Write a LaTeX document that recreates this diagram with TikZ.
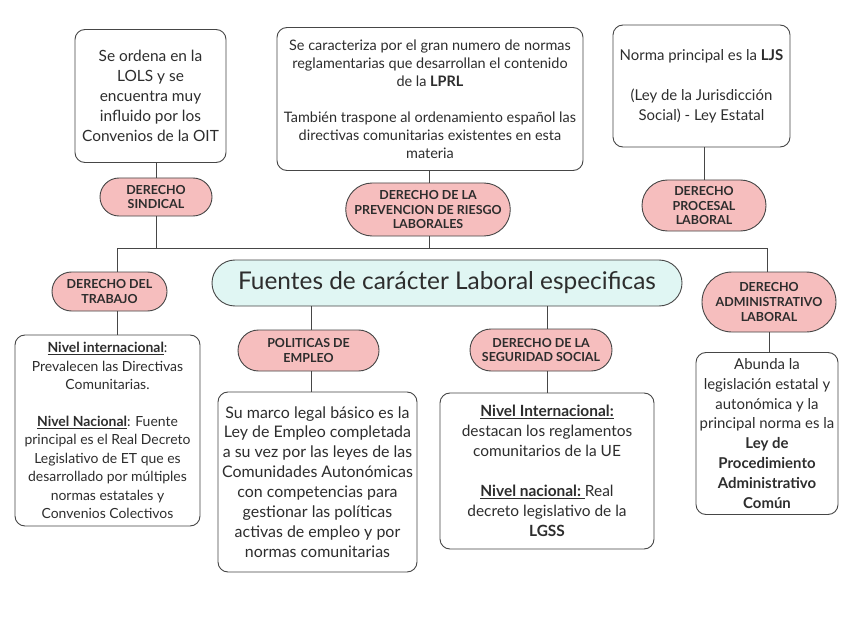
\documentclass[tikz,border=0pt]{standalone}
\usepackage{fontspec}
\setmainfont{Lato}
\usetikzlibrary{shapes.misc}
\definecolor{pillfill}{RGB}{246,190,190}
\definecolor{mainfill}{RGB}{224,246,243}
\definecolor{edge}{RGB}{70,70,70}
\definecolor{txt}{RGB}{45,45,45}
\tikzset{
  box/.style={draw=edge, line width=0.9bp, rounded corners=10bp, fill=white, align=center, inner sep=0pt, text=txt},
  pill/.style={draw=edge, line width=0.9bp, rounded rectangle, fill=pillfill, align=center, inner sep=0pt, text=txt, font=\bfseries\fontsize{12.5}{15}\selectfont},
  mainnode/.style={draw=edge, line width=0.9bp, rounded rectangle, fill=mainfill, align=center, inner sep=0pt, text=txt, font=\fontsize{24.5}{28}\selectfont},
  link/.style={draw=edge, line width=0.9bp},
}
\begin{document}
\begin{tikzpicture}[x=1bp,y=-1bp]
\useasboundingbox (0,0) rectangle (848,636);
\fill[white] (0,0) rectangle (848,636);

% junction coordinates on the horizontal bar
\coordinate (jL) at (117,248);
\coordinate (jS) at (156,248);
\coordinate (jP) at (429,248);
\coordinate (jR) at (767,248);

% top row
\node[box, minimum width=151bp, minimum height=133bp, font=\fontsize{15.5}{20}\selectfont] (sbox) at (150.5,96)
  {Se ordena en la\\LOLS y se\\encuentra muy\\influido por los\\Convenios de la OIT};
\node[pill, minimum width=112bp, minimum height=38bp] (spill) at (156,197) {DERECHO\\SINDICAL};

\node[box, minimum width=306bp, minimum height=143bp, font=\fontsize{14.5}{18}\selectfont] (pbox) at (430,99)
  {Se caracteriza por el gran numero de normas\\reglamentarias que desarrollan el contenido\\de la \textbf{LPRL}\\[18bp]
   También traspone al ordenamiento español las\\directivas comunitarias existentes en esta\\materia};
\node[pill, minimum width=155bp, minimum height=53bp] (ppill) at (428,209.5) {DERECHO DE LA\\PREVENCION DE RIESGO\\LABORALES};

\node[box, minimum width=177bp, minimum height=122bp, font=\fontsize{15}{20}\selectfont] (rbox) at (701.5,86)
  {Norma principal es la \textbf{LJS}\\[20bp](Ley de la Jurisdicción\\Social) - Ley Estatal};
\node[pill, minimum width=124bp, minimum height=51bp] (rpill) at (704,205.5) {DERECHO\\PROCESAL\\LABORAL};

% centre
\node[mainnode, minimum width=470bp, minimum height=46bp] (main) at (447,283) {Fuentes de carácter Laboral especificas};

% middle row pills
\node[pill, minimum width=115bp, minimum height=39bp] (tpill) at (109.5,291.5) {DERECHO DEL\\TRABAJO};
\node[pill, minimum width=141bp, minimum height=41bp] (epill) at (308.5,350.5) {POLITICAS DE\\EMPLEO};
\node[pill, minimum width=142bp, minimum height=42bp] (gpill) at (541,350) {DERECHO DE LA\\SEGURIDAD SOCIAL};
\node[pill, minimum width=134bp, minimum height=60bp] (apill) at (769,302) {DERECHO\\ADMINISTRATIVO\\LABORAL};

% bottom boxes
\node[box, minimum width=185bp, minimum height=191bp, font=\fontsize{14}{18.5}\selectfont] (tbox) at (107.5,430.5)
  {\underline{\textbf{Nivel internacional}}:\\Prevalecen las Directivas\\Comunitarias.\\[18.5bp]
   \underline{\textbf{Nivel Nacional}}: Fuente\\principal es el Real Decreto\\Legislativo de ET que es\\desarrollado por múltiples\\normas estatales y\\Convenios Colectivos};
\node[box, minimum width=199bp, minimum height=180bp, font=\fontsize{16}{20}\selectfont] (ebox) at (317.5,482)
  {Su marco legal básico es la\\Ley de Empleo completada\\a su vez por las leyes de las\\Comunidades Autonómicas\\con competencias para\\gestionar las políticas\\activas de empleo y por\\normas comunitarias};
\node[box, minimum width=214bp, minimum height=156bp, font=\fontsize{15.5}{20}\selectfont] (gbox) at (547,471)
  {\underline{\textbf{Nivel Internacional:}}\\destacan los reglamentos\\comunitarios de la UE\\[20bp]
   \underline{\textbf{Nivel nacional:}\ }Real\\decreto legislativo de la\\\textbf{LGSS}};
\node[box, minimum width=142bp, minimum height=162bp, font=\fontsize{15}{20}\selectfont] (abox) at (767,433.5)
  {Abunda la\\legislación estatal y\\autonómica y la\\principal norma es la\\\textbf{Ley de}\\\textbf{Procedimiento}\\\textbf{Administrativo}\\\textbf{Común}};

% connectors
\draw[link] (sbox.south -| jS) -- (spill.north -| jS);
\draw[link] (spill.south -| jS) -- (jS);
\draw[link] (pbox.south -| jP) -- (ppill.north -| jP);
\draw[link] (ppill.south -| jP) -- (jP);
\draw[link] (rbox.south -| rpill.north) -- (rpill.north);
\draw[link] (jL) -- (jR);
\draw[link] (jL) -- (tpill.north -| jL);
\draw[link] (tpill.south -| jL) -- (tbox.north -| jL);
\draw[link] (jR) -- (apill.north -| jR);
\draw[link] (apill.south) -- (abox.north -| apill.south);
\draw[link] (main.south -| epill.north) ++(2.5,0) coordinate (eTop) -- (epill.north -| eTop);
\draw[link] (epill.south -| eTop) -- (ebox.north -| eTop);
\draw[link] (main.south -| gbox.north) -- (gpill.north -| gbox.north);
\draw[link] (gpill.south -| gbox.north) -- (gbox.north);
\end{tikzpicture}
\end{document}
